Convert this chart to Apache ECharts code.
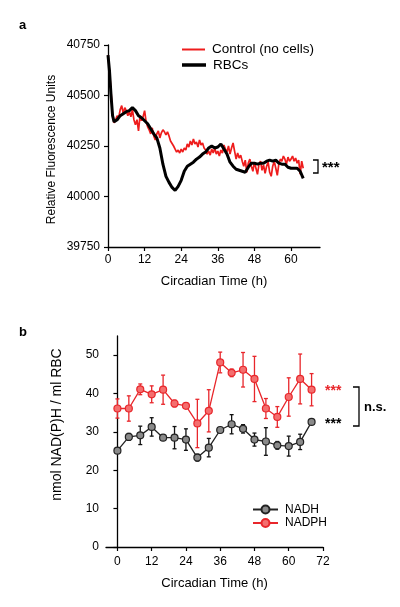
<!DOCTYPE html>
<html><head><meta charset="utf-8">
<script src="https://cdn.jsdelivr.net/npm/echarts@6/dist/echarts.min.js"></script>
<style>html,body{margin:0;padding:0;background:#fff}#c{width:400px;height:607px}</style>
</head><body><div id="c"></div>
<script>
// ---- Panel a data ----
const ctrlTime = [0,0.5,1,1.5,2,2.5,3,3.5,4,4.5,5,5.5,6,6.5,7,7.5,8,8.5,9,9.5,10,10.5,11,11.5,12,12.5,13,13.5,14,14.5,15,15.5,16,16.5,17,17.5,18,18.5,19,19.5,20,20.5,21,21.5,22,22.5,23,23.5,24,24.5,25,25.5,26,26.5,27,27.5,28,28.5,29,29.5,30,30.5,31,31.5,32,32.5,33,33.5,34,34.5,35,35.5,36,36.5,37,37.5,38,38.5,39,39.5,40,40.5,41,41.5,42,42.5,43,43.5,44,44.5,45,45.5,46,46.5,47,47.5,48,48.5,49,49.5,50,50.5,51,51.5,52,52.5,53,53.5,54,54.5,55,55.5,56,56.5,57,57.5,58,58.5,59,59.5,60,60.5,61,61.5,62,62.5,63,63.5,64];
const ctrlValue = [40700,40620,40520,40400,40365,40380,40400,40390,40430,40450,40410,40440,40425,40400,40420,40395,40430,40380,40355,40380,40325,40400,40375,40395,40425,40370,40345,40330,40310,40340,40300,40280,40310,40325,40290,40315,40330,40320,40305,40320,40300,40275,40280,40250,40235,40220,40230,40215,40235,40220,40240,40230,40260,40245,40275,40255,40285,40260,40270,40245,40280,40255,40265,40240,40230,40210,40225,40205,40235,40215,40240,40210,40225,40200,40230,40215,40255,40235,40220,40250,40210,40240,40265,40225,40185,40215,40190,40205,40175,40150,40180,40120,40165,40185,40150,40125,40170,40140,40110,40160,40175,40130,40155,40115,40150,40170,40120,40100,40150,40175,40140,40105,40160,40185,40175,40200,40185,40160,40195,40175,40185,40200,40175,40190,40165,40180,40110,40175,40140];
const rbcTime = [0,0.5,1,1.5,2,3,4,5,6,7,8,9,10,11,12,13,14,15,16,17,18,19,20,21,22,23,24,25,26,27,28,29,30,31,32,33,34,35,36,37,38,39,40,41,42,43,44,45,46,47,48,49,50,51,52,53,54,55,56,57,58,59,60,61,62,63,64];
const rbcValue = [40700,40620,40500,40400,40370,40380,40400,40410,40420,40425,40440,40425,40400,40390,40375,40360,40335,40310,40290,40240,40160,40100,40070,40045,40030,40050,40080,40125,40150,40160,40170,40185,40195,40210,40220,40240,40250,40240,40245,40260,40235,40210,40170,40150,40135,40130,40125,40120,40145,40165,40165,40160,40165,40165,40175,40180,40175,40180,40165,40160,40160,40145,40140,40140,40140,40125,40090];
const aXTicks = [0,12,24,36,48,60];
const aYTicks = [39750,40000,40250,40500,40750];

// ---- Panel b data ----
const bTime = [0,4,8,12,16,20,24,28,32,36,40,44,48,52,56,60,64,68];
const nadhMean = [25.1,28.7,29.1,31.3,28.5,28.5,28.0,23.3,25.9,30.5,32.0,30.8,28.0,27.5,26.5,26.3,27.4,32.6];
const nadhErr  = [0.3,0.9,2.4,2.4,0.5,2.9,2.8,0.9,2.4,0.5,2.5,1.1,1.7,3.6,1.0,2.6,2.0,0.3];
const nadphMean = [36.1,36.1,41.1,39.8,41.0,37.4,36.8,32.2,35.5,48.1,45.4,46.2,43.8,36.1,33.9,39.1,43.8,41.0];
const nadphErr  = [2.5,3.3,1.4,2.2,3.8,0.9,0.5,6.3,5.5,2.7,1.0,4.5,5.9,2.6,2.7,5.0,6.5,4.2];
const bXTicks = [0,12,24,36,48,60,72];
const bYTicks = [0,10,20,30,40,50];

const FONT = "'Liberation Sans', Arial, sans-serif";
const RED = '#ee1c1c';
const RED_B = '#e8262b';

function errRender(color) {
  return function (params, api) {
    const x = api.value(0), m = api.value(1), e = api.value(2);
    const top = api.coord([x, m + e]);
    const bot = api.coord([x, m - e]);
    const hw = 2;
    const st = { stroke: color, lineWidth: 1.3 };
    return { type: 'group', children: [
      { type: 'line', shape: { x1: top[0], y1: top[1], x2: bot[0], y2: bot[1] }, style: st },
      { type: 'line', shape: { x1: top[0] - hw, y1: top[1], x2: top[0] + hw, y2: top[1] }, style: st },
      { type: 'line', shape: { x1: bot[0] - hw, y1: bot[1], x2: bot[0] + hw, y2: bot[1] }, style: st }
    ]};
  };
}

const axisCommon = {
  axisLine: { show: true, lineStyle: { color: '#000', width: 1.3 } },
  axisTick: { show: true, length: 4, lineStyle: { color: '#000', width: 1.2 } },
  splitLine: { show: false },
  nameTextStyle: { color: '#000', fontFamily: FONT, fontSize: 13 }
};
const plain = v => String(v);

const chart = echarts.init(document.getElementById('c'), null, { renderer: 'canvas' });
chart.setOption({
  animation: false,
  backgroundColor: '#fff',
  textStyle: { fontFamily: FONT },
  grid: [
    { left: 108, top: 45, width: 212, height: 202 },
    { left: 106, top: 336, width: 217, height: 211 }
  ],
  xAxis: [
    Object.assign({}, axisCommon, {
      type: 'value', gridIndex: 0, min: 0, max: 69.5,
      axisTick: Object.assign({}, axisCommon.axisTick, { customValues: aXTicks }),
      axisLabel: { customValues: aXTicks, formatter: plain, margin: 7, color: '#000', fontSize: 12, fontFamily: FONT },
      name: 'Circadian Time (h)', nameLocation: 'middle', nameGap: 28
    }),
    Object.assign({}, axisCommon, {
      type: 'value', gridIndex: 1, min: -4, max: 72,
      axisTick: Object.assign({}, axisCommon.axisTick, { customValues: bXTicks }),
      axisLabel: { customValues: bXTicks, formatter: plain, margin: 9, color: '#000', fontSize: 12, fontFamily: FONT },
      name: 'Circadian Time (h)', nameLocation: 'middle', nameGap: 30
    })
  ],
  yAxis: [
    Object.assign({}, axisCommon, {
      type: 'value', gridIndex: 0, min: 39750, max: 40750,
      axisTick: Object.assign({}, axisCommon.axisTick, { customValues: aYTicks }),
      axisLabel: { customValues: aYTicks, formatter: plain, margin: 8, color: '#000', fontSize: 12, fontFamily: FONT }
    }),
    Object.assign({}, axisCommon, {
      type: 'value', gridIndex: 1, min: 0, max: 55,
      axisTick: Object.assign({}, axisCommon.axisTick, { customValues: bYTicks }),
      axisLabel: { customValues: bYTicks, formatter: plain, margin: 7, color: '#000', fontSize: 12, fontFamily: FONT }
    })
  ],
  legend: [
    {
      left: 177, top: 37.5, icon: 'rect', itemWidth: 23, itemHeight: 2,
      data: ['Control (no cells)'],
      textStyle: { fontFamily: FONT, fontSize: 13.5, color: '#000', padding: [0, 0, 0, 2] }
    },
    {
      left: 177, top: 53, icon: 'rect', itemWidth: 24, itemHeight: 3.5,
      data: ['RBCs'],
      textStyle: { fontFamily: FONT, fontSize: 13.5, color: '#000', padding: [0, 0, 0, 2] }
    },
    {
      left: 247, top: 498.5, orient: 'vertical', itemWidth: 25, itemHeight: 10, itemGap: 1.5,
      data: ['NADH', 'NADPH'],
      textStyle: { fontFamily: FONT, fontSize: 12, color: '#000', padding: [0, 0, 0, 2] }
    }
  ],
  series: [
    {
      name: 'Control (no cells)', type: 'line', xAxisIndex: 0, yAxisIndex: 0,
      data: ctrlTime.map((t, i) => [t, ctrlValue[i]]),
      symbol: 'none', lineStyle: { color: RED, width: 1.7 }, itemStyle: { color: RED }, z: 2
    },
    {
      name: 'RBCs', type: 'line', xAxisIndex: 0, yAxisIndex: 0,
      data: rbcTime.map((t, i) => [t, rbcValue[i]]),
      symbol: 'none', lineStyle: { color: '#000', width: 3 }, itemStyle: { color: '#000' }, z: 3
    },
    {
      name: 'nadhErr', type: 'custom', xAxisIndex: 1, yAxisIndex: 1,
      data: bTime.map((t, i) => [t, nadhMean[i], nadhErr[i]]),
      renderItem: errRender('#111'), z: 2, silent: true
    },
    {
      name: 'nadphErr', type: 'custom', xAxisIndex: 1, yAxisIndex: 1,
      data: bTime.map((t, i) => [t, nadphMean[i], nadphErr[i]]),
      renderItem: errRender(RED_B), z: 2, silent: true
    },
    {
      name: 'NADH', type: 'line', xAxisIndex: 1, yAxisIndex: 1,
      data: bTime.map((t, i) => [t, nadhMean[i]]),
      symbol: 'circle', symbolSize: 7,
      lineStyle: { color: '#222', width: 1.3 },
      itemStyle: { color: '#8a8a8a', borderColor: '#222', borderWidth: 1.2 }, z: 4
    },
    {
      name: 'NADPH', type: 'line', xAxisIndex: 1, yAxisIndex: 1,
      data: bTime.map((t, i) => [t, nadphMean[i]]),
      symbol: 'circle', symbolSize: 7,
      lineStyle: { color: RED_B, width: 1.3 },
      itemStyle: { color: '#f46e6e', borderColor: RED_B, borderWidth: 1.2 }, z: 4
    }
  ],
  graphic: [
    { type: 'text', left: 19, top: 19, style: { text: 'a', font: 'bold 13px ' + FONT, fill: '#000' } },
    { type: 'text', left: 19, top: 326, style: { text: 'b', font: 'bold 13px ' + FONT, fill: '#000' } },
    // axis titles
    { type: 'text', x: 51.5, y: 149.5, rotation: Math.PI / 2,
      style: { text: 'Relative Fluorescence Units', font: '12px ' + FONT, fill: '#000', align: 'center', verticalAlign: 'middle' } },
    { type: 'text', x: 57, y: 424.5, rotation: Math.PI / 2,
      style: { text: 'nmol NAD(P)H / ml RBC', font: '14px ' + FONT, fill: '#000', align: 'center', verticalAlign: 'middle' } },
    // panel a significance bracket
    { type: 'polyline', shape: { points: [[313, 160], [318, 160], [318, 173], [313, 173]] }, style: { stroke: '#000', lineWidth: 1.3, fill: null } },
    { type: 'text', left: 322, top: 160, style: { text: '***', font: 'bold 15px ' + FONT, fill: '#000' } },
    // panel b annotations
    { type: 'text', left: 325, top: 384, style: { text: '***', font: 'bold 14px ' + FONT, fill: RED_B } },
    { type: 'text', left: 325, top: 417, style: { text: '***', font: 'bold 14px ' + FONT, fill: '#000' } },
    { type: 'polyline', shape: { points: [[353, 387], [359, 387], [359, 426], [353, 426]] }, style: { stroke: '#000', lineWidth: 1.3, fill: null } },
    { type: 'text', left: 364, top: 401, style: { text: 'n.s.', font: 'bold 13px ' + FONT, fill: '#000' } }
  ]
});
</script>
</body></html>
